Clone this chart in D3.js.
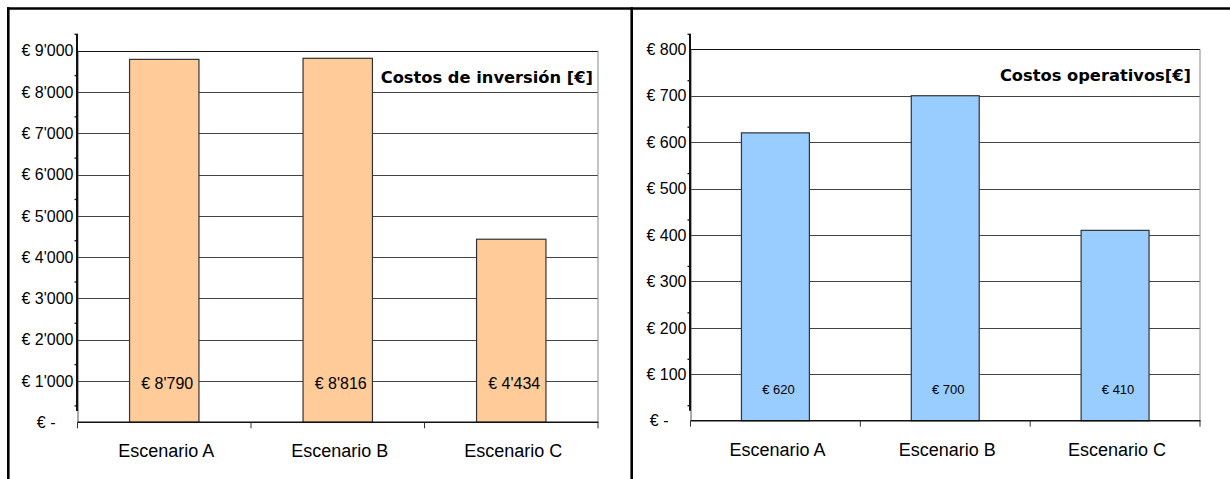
<!DOCTYPE html>
<html>
<head>
<meta charset="utf-8">
<script src="https://cdn.jsdelivr.net/npm/d3@7"></script>
<style>
  html, body { margin: 0; padding: 0; background: #fff; }
  svg { display: block; }
</style>
</head>
<body>
<svg id="chart" width="1230" height="479"></svg>
<script>
// ---- data ----
const categories = ["Escenario A", "Escenario B", "Escenario C"];
const inversionValues = [8790, 8816, 4434];
const operativosValues = [620, 700, 410];
const inversionTicks = [0, 1000, 2000, 3000, 4000, 5000, 6000, 7000, 8000, 9000];
const operativosTicks = [0, 100, 200, 300, 400, 500, 600, 700, 800];
const titles = ["Costos de inversión [€]", "Costos operativos[€]"];

const svg = d3.select("#chart");
const locale = d3.formatLocale({ decimal: ".", thousands: "'", grouping: [3], currency: ["€ ", ""] });
const fmt = locale.format("$,.0f");
const label = v => v === 0 ? "€ -" : fmt(v);

// outer frame
const frame = svg.append("g").attr("stroke", "#000").attr("stroke-width", 2.6).attr("fill", "none");
frame.append("line").attr("x1", 7).attr("x2", 1230).attr("y1", 8.5).attr("y2", 8.5);
frame.append("line").attr("x1", 8.3).attr("x2", 8.3).attr("y1", 7.2).attr("y2", 479);
frame.append("line").attr("x1", 631.7).attr("x2", 631.7).attr("y1", 7.2).attr("y2", 479);

function drawChart(cfg) {
  const g = svg.append("g");
  const x = d3.scaleBand().domain(categories).range([cfg.x0, cfg.x1]).paddingInner(0.6).paddingOuter(0.3);
  const y = d3.scaleLinear().domain([0, cfg.max]).range([cfg.yBase, cfg.yTop]);
  const fontFam = "'Liberation Sans', Arial, sans-serif";

  // gridlines
  g.append("g").selectAll("line").data(cfg.ticks.filter(t => t > 0)).join("line")
    .attr("x1", cfg.x0).attr("x2", cfg.x1)
    .attr("y1", d => Math.round(y(d)) + 0.5).attr("y2", d => Math.round(y(d)) + 0.5)
    .attr("stroke", d => d === cfg.max ? "#111" : "#444").attr("stroke-width", 1.1);

  // plot right border
  g.append("line").attr("x1", cfg.x1).attr("x2", cfg.x1).attr("y1", y(cfg.max)).attr("y2", y(0))
    .attr("stroke", "#888").attr("stroke-width", 1);
  // plot left edge
  g.append("line").attr("x1", cfg.x0 + 0.5).attr("x2", cfg.x0 + 0.5).attr("y1", y(cfg.max)).attr("y2", y(0))
    .attr("stroke", "#555").attr("stroke-width", 1);

  // shifted y axis line and ticks (as in the reference)
  const yAxisShift = d3.scaleLinear().domain([0, cfg.max]).range([cfg.yBase - cfg.shift, cfg.yTop - cfg.shift]);
  g.append("line").attr("x1", cfg.x0 - 0.5).attr("x2", cfg.x0 - 0.5)
    .attr("y1", yAxisShift(cfg.max)).attr("y2", yAxisShift(0) + 5)
    .attr("stroke", "#111").attr("stroke-width", 2);
  g.append("g").selectAll("line").data(cfg.ticks).join("line")
    .attr("x1", cfg.x0 - 3).attr("x2", cfg.x0 + 0.5)
    .attr("y1", d => yAxisShift(d)).attr("y2", d => yAxisShift(d))
    .attr("stroke", "#111").attr("stroke-width", 1.3);

  // y tick labels
  g.append("g").selectAll("text").data(cfg.ticks).join("text")
    .attr("x", d => d === 0 ? cfg.x0 - 22 : cfg.x0 - 4)
    .attr("y", d => y(d))
    .attr("dy", "0.36em")
    .attr("text-anchor", "end")
    .attr("font-family", fontFam).attr("font-size", 16).attr("fill", "#000")
    .text(label);

  // bars
  g.append("g").selectAll("rect").data(cfg.values).join("rect")
    .attr("x", (d, i) => x(categories[i]))
    .attr("width", x.bandwidth())
    .attr("y", d => y(d))
    .attr("height", d => y(0) - y(d))
    .attr("fill", cfg.color).attr("stroke", "#333").attr("stroke-width", 1.2);

  // baseline
  g.append("line").attr("x1", cfg.x0).attr("x2", cfg.x1 + 0.5).attr("y1", y(0)).attr("y2", y(0))
    .attr("stroke", "#111").attr("stroke-width", 1.4);

  // x ticks at band boundaries
  const bounds = [0, 1, 2, 3].map(i => cfg.x0 + i * x.step());
  g.append("g").selectAll("line").data(bounds).join("line")
    .attr("x1", d => d).attr("x2", d => d).attr("y1", y(0)).attr("y2", y(0) + 6)
    .attr("stroke", "#333").attr("stroke-width", 1);

  // bar value labels
  g.append("g").selectAll("text").data(cfg.values).join("text")
    .attr("x", (d, i) => x(categories[i]) + x.bandwidth() / 2 + 3)
    .attr("y", y(0) - cfg.labelOffset)
    .attr("text-anchor", "middle")
    .attr("font-family", fontFam).attr("font-size", cfg.labelSize).attr("fill", "#000")
    .text(label);

  // category labels
  g.append("g").selectAll("text").data(categories).join("text")
    .attr("x", d => x(d) + x.bandwidth() / 2 + 2)
    .attr("y", y(0) + 35)
    .attr("text-anchor", "middle")
    .attr("font-family", fontFam).attr("font-size", 18).attr("fill", "#000")
    .text(d => d);

  // title
  g.append("text")
    .attr("x", cfg.x1 - cfg.titleGap).attr("y", y(cfg.max) + 32)
    .attr("text-anchor", "end")
    .attr("font-family", "'DejaVu Sans', Verdana, sans-serif").attr("font-weight", "bold")
    .attr("font-size", 16.3).attr("fill", "#000")
    .text(cfg.title);
}

drawChart({ x0: 77.5, x1: 598, yTop: 50.7, yBase: 422.3, max: 9000, ticks: inversionTicks,
  values: inversionValues, color: "#FFCC99", shift: 16.4, labelSize: 16, labelOffset: 33, title: titles[0], titleGap: 5 });
drawChart({ x0: 690.5, x1: 1200, yTop: 49.3, yBase: 420.7, max: 800, ticks: operativosTicks,
  values: operativosValues, color: "#99CCFF", shift: 15, labelSize: 13, labelOffset: 27, title: titles[1], titleGap: 9 });
</script>
</body>
</html>
